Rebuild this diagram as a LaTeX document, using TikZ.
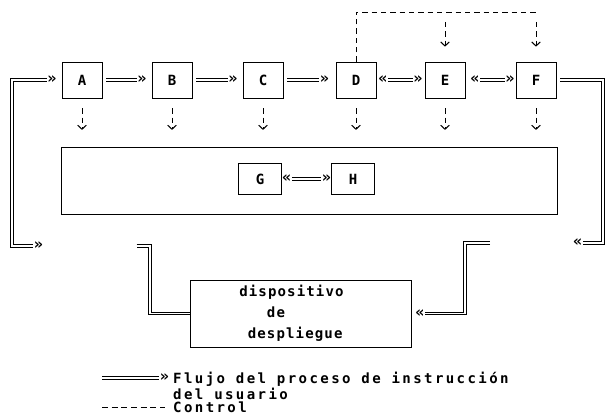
\documentclass[tikz,border=0pt]{standalone}
\usepackage{fontspec}
\setmonofont{DejaVu Sans Mono}
\newfontfamily\dotfont[LetterSpace=8]{DejaVu Sans Mono}
\newfontfamily\legendfont[LetterSpace=17]{DejaVu Sans Mono}
\usetikzlibrary{arrows.meta}

\begin{document}
\begin{tikzpicture}[
    x=0.3mm, y=-0.3mm,
    every node/.style={font=\dotfont\bfseries\fontsize{12}{13}\selectfont},
    box/.style={rectangle, draw, line width=0.6pt, minimum width=12mm, minimum height=10.8mm, inner sep=0pt},
    smallbox/.style={box, minimum width=13mm, minimum height=9.3mm},
    panel/.style={rectangle, draw, line width=0.7pt, minimum width=148.8mm, minimum height=20.1mm},
    dispbox/.style={rectangle, draw, line width=0.7pt, minimum width=66.3mm, minimum height=20.1mm, align=left, font=\dotfont\bfseries\fontsize{12}{18}\selectfont},
    legendtext/.style={align=left, inner sep=0pt, font=\legendfont\bfseries\fontsize{12}{13.2}\selectfont},
    glyph/.style={inner sep=0.3pt, font=\dotfont\bfseries\fontsize{13}{13}\selectfont},
    flow/.style={double, line width=0.8pt, double distance=1.3pt},
    control/.style={dash pattern=on 1.6mm off 1.2mm, line width=0.7pt},
    controlarrow/.style={control, -{Straight Barb[length=1.2mm, width=2.6mm, line width=0.9pt]}}
]
\useasboundingbox (0,0) rectangle (608,418);

% -------------------------
% Process boxes
% -------------------------
    \node[box] (A) at (82,80) {A};
    \node[box] (B) at (172,80) {B};
    \node[box] (C) at (263,80) {C};
    \node[box] (D) at (356,80) {D};
    \node[box] (E) at (445,80) {E};
    \node[box] (F) at (536,80) {F};

% Panel with G and H
    \node[panel] (panel) at (309,180.5) {};
    \node[smallbox] (G) at (260,179) {G};
    \node[smallbox] (H) at (353,179) {H};

% Display device
    \node[dispbox] (disp) at (300.5,313.5) {dispositivo\phantom{xx}\\\phantom{xxx}de\\\phantom{x}despliegue};

% -------------------------
% Flow of the user's process
% -------------------------
    \draw[flow] ([xshift=1.2mm]A.east) -- ([xshift=-4.5mm]B.west) node[glyph,right] {»};
    \draw[flow] ([xshift=1.2mm]B.east) -- ([xshift=-4.5mm]C.west) node[glyph,right] {»};
    \draw[flow] ([xshift=1.2mm]C.east) -- ([xshift=-5mm]D.west) node[glyph,right] {»};
    \draw[flow] ([xshift=3.6mm]D.east) node[glyph,left] {«} -- ([xshift=-3.6mm]E.west) node[glyph,right] {»};
    \draw[flow] ([xshift=4.5mm]E.east) node[glyph,left] {«} -- ([xshift=-3.3mm]F.west) node[glyph,right] {»};
    \draw[flow] ([xshift=3mm]G.east) node[glyph,left] {«} -- ([xshift=-3mm]H.west) node[glyph,right] {»};

% Left return path
    \coordinate (lt) at (12,80);
    \coordinate (lb) at (12,246);
    \coordinate (lm) at (150,246);
    \draw[flow] ([xshift=6.3mm]lb) node[glyph,right] {»} -- (lb) -- (lt) -- ([xshift=-4.5mm]A.west) node[glyph,right] {»};
    \draw[flow] ([xshift=-4mm]lm) -- (lm) |- (disp.west);

% Right return path
    \coordinate (rt) at (603,80);
    \coordinate (rb) at (603,243);
    \coordinate (rm) at (465,243);
    \draw[flow] ([xshift=1.2mm]F.east) -- (rt) -- (rb) -- ([xshift=-6mm]rb) node[glyph,left] {«};
    \draw[flow] ([xshift=7.5mm]rm) -- (rm) |- ([xshift=4.2mm]disp.east) node[glyph,left] {«};

% -------------------------
% Control
% -------------------------
    \coordinate (ctr) at (536,12);
    \draw[control] (D.north) |- (ctr);
    \draw[controlarrow, shorten <=3mm] (E.north |- ctr) -- ([yshift=4.5mm]E.north);
    \draw[controlarrow, shorten <=3mm] (ctr) -- ([yshift=4.5mm]F.north);
    \foreach \n in {A,B,C,D,E,F}
        \draw[controlarrow, shorten <=3mm] (\n.south) -- ([yshift=5mm]\n.south |- panel.north);

% -------------------------
% Legend
% -------------------------
    \coordinate (lgA) at (102,378);
    \coordinate (lgB) at (159,378);
    \coordinate (lgC) at (102,407);
    \coordinate (lgD) at (165,407);
    \draw[flow] (lgA) -- (lgB) node[glyph,right] {»};
    \node[legendtext, anchor=north west] (lgflow) at (173,372) {Flujo del proceso de instrucción\\del usuario};
    \draw[control, dash pattern=on 1.8mm off 1.1mm] (lgC) -- (lgD);
    \node[legendtext, anchor=west] (lgctrl) at (173,407) {Control};
\end{tikzpicture}
\end{document}
